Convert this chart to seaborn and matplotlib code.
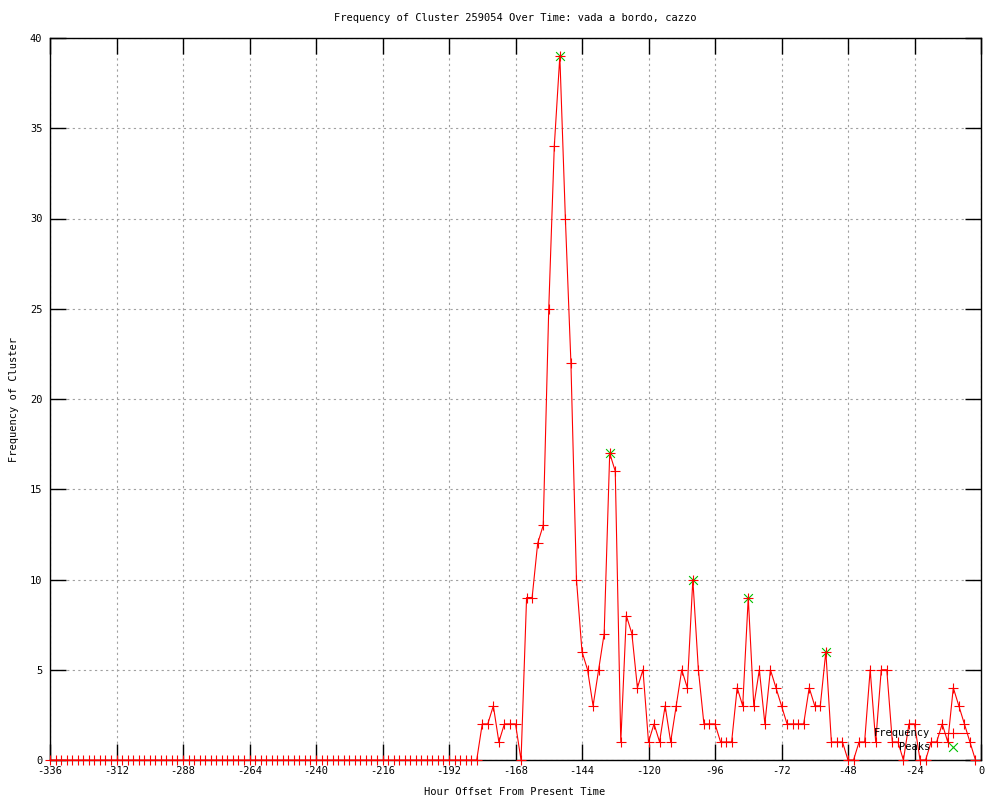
import numpy as np
import pandas as pd
import matplotlib
matplotlib.use('Agg')
import matplotlib.pyplot as plt
import seaborn as sns

# ============================================================================
# DATA (one bin every 2 hours, -336 .. -2)
# ============================================================================

hours = list(range(-336, 0, 2))

# -336 .. -182 : nothing
freq_quiet = [0, 0, 0, 0, 0, 0, 0, 0, 0, 0, 0, 0, 0, 0, 0, 0, 0, 0, 0, 0, 0, 0, 0, 0, 0, 0,
              0, 0, 0, 0, 0, 0, 0, 0, 0, 0, 0, 0, 0, 0, 0, 0, 0, 0, 0, 0, 0, 0, 0, 0, 0, 0,
              0, 0, 0, 0, 0, 0, 0, 0, 0, 0, 0, 0, 0, 0, 0, 0, 0, 0, 0, 0, 0, 0, 0, 0, 0, 0]

# -180 .. -2
freq_active = [2, 2, 3, 1, 2, 2, 2, 0,      # -180 .. -166
               9, 9, 12, 13, 25, 34, 39, 30,  # -164 .. -150
               22, 10, 6, 5, 3, 5, 7, 17,     # -148 .. -134
               16, 1, 8, 7, 4, 5, 1, 2,       # -132 .. -118
               1, 3, 1, 3, 5, 4, 10, 5,       # -116 .. -102
               2, 2, 2, 1, 1, 1, 4, 3,        # -100 .. -86
               9, 3, 5, 2, 5, 4, 3, 2,        # -84 .. -70
               2, 2, 2, 4, 3, 3, 6, 1,        # -68 .. -54
               1, 1, 0, 0, 1, 1, 5, 1,        # -52 .. -38
               5, 5, 1, 1, 0, 2, 2, 0,        # -36 .. -22
               0, 1, 1, 2, 1, 4, 3, 2,        # -20 .. -6
               1, 0]                          # -4 .. -2

freq = freq_quiet + freq_active

peak_hours = [-152, -134, -104, -84, -56]
peak_vals = [39, 17, 10, 9, 6]

x_ticks = list(range(-336, 1, 24))
y_ticks = list(range(0, 41, 5))

df = pd.DataFrame({'hour': hours, 'freq': freq})
peaks = pd.DataFrame({'hour': peak_hours, 'freq': peak_vals})

# ============================================================================
# PLOT
# ============================================================================

sns.set_style('ticks')
plt.rcParams['font.family'] = ['DejaVu Sans Mono']
plt.rcParams['axes.unicode_minus'] = False
plt.rcParams['text.color'] = 'black'
FS = 7.5

fig = plt.figure(figsize=(10, 8), dpi=100)
ax = fig.add_axes([0.05, 0.05, 0.931, 0.9025])

sns.scatterplot(data=peaks, x='hour', y='freq', marker='x', color='#00c000',
                s=40, linewidth=0.8, label='Peaks', ax=ax, zorder=2, clip_on=False)
sns.lineplot(data=df, x='hour', y='freq', color='red', lw=0.8, marker='+',
             markersize=6.5, markeredgewidth=0.8, markeredgecolor='red',
             label='Frequency', ax=ax, zorder=3, clip_on=False)

ax.set_xlim(-336, 0)
ax.set_ylim(0, 40)
ax.set_xticks(x_ticks)
ax.set_yticks(y_ticks)
ax.set_xlabel('')
ax.set_ylabel('')
ax.grid(True, color='#a0a0a0', lw=0.8, ls=(0, (2, 3)))
ax.set_axisbelow(True)
for s in ax.spines.values():
    s.set_visible(True)
    s.set_color('black')
    s.set_linewidth(1)
ax.tick_params(direction='in', length=11.5, width=1, top=True, right=True,
               labelsize=FS, colors='black')
ax.tick_params(axis='x', pad=4)
ax.tick_params(axis='y', pad=5.5)

# legend: text on the left, sample on the right
h, l = ax.get_legend_handles_labels()
order = [l.index('Frequency'), l.index('Peaks')]
ax.legend([h[i] for i in order], [l[i] for i in order],
          loc='lower right', bbox_to_anchor=(0.987, 0.011), frameon=False,
          markerfirst=False, fontsize=FS, handlelength=3.1, handletextpad=0.6,
          labelspacing=0.35, borderpad=0, borderaxespad=0)

fig.text(0.515, 1 - 18 / 800, 'Frequency of Cluster 259054 Over Time: vada a bordo, cazzo',
         ha='center', va='center', fontsize=FS)
fig.text(0.515, 1 - 792 / 800, 'Hour Offset From Present Time',
         ha='center', va='center', fontsize=FS)
fig.text(0.014, 1 - 400 / 800, 'Frequency of Cluster',
         ha='center', va='center', rotation=90, fontsize=FS)

plt.savefig('out.png', dpi=100)
